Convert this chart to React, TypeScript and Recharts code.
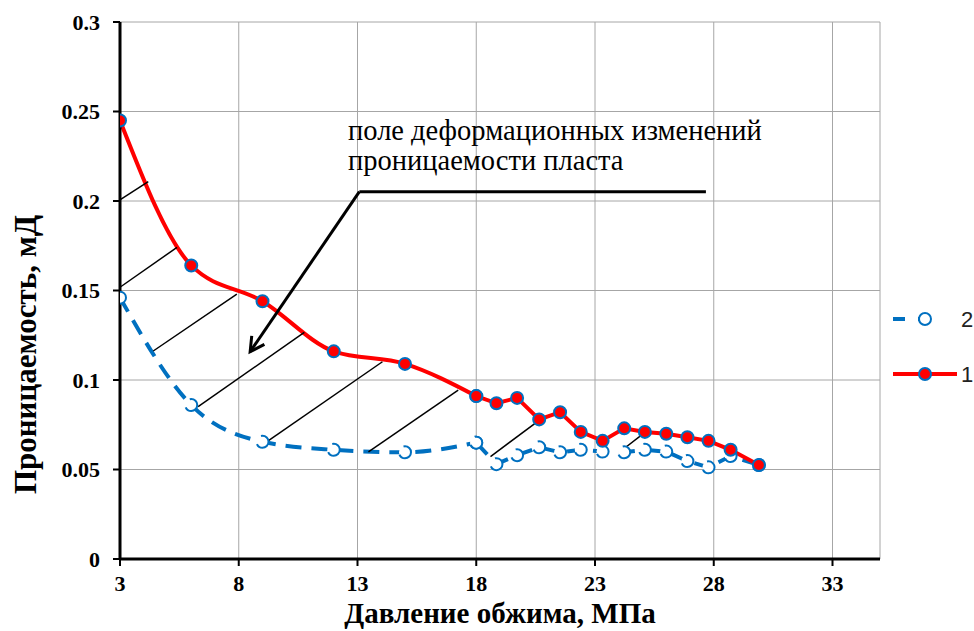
import React from 'react';
import { LineChart, Line, XAxis, YAxis, CartesianGrid, ReferenceLine } from 'recharts';

// ---- data ----
const pressure = [3, 6, 9, 12, 15, 18, 18.85, 19.72, 20.65, 21.53, 22.4, 23.32, 24.23, 25.1, 26.0, 26.89, 27.78, 28.71, 29.9];
const perm1 = [0.245, 0.164, 0.144, 0.116, 0.109, 0.091, 0.087, 0.090, 0.078, 0.082, 0.071, 0.066, 0.073, 0.071, 0.070, 0.068, 0.066, 0.061, 0.0525];
const perm2 = [0.146, 0.086, 0.0655, 0.061, 0.0596, 0.065, 0.053, 0.058, 0.0624, 0.0596, 0.061, 0.060, 0.0596, 0.061, 0.060, 0.0547, 0.0512, 0.0575, 0.0525];
const SMOOTH_END = 5; // index of x = 18, smoothed part ends here

const xTicks = [3, 8, 13, 18, 23, 28, 33];
const yTicks = [0, 0.05, 0.1, 0.15, 0.2, 0.25, 0.3];

const seriesNames = ['2', '1'];
const xTitle = 'Давление обжима, МПа';
const yTitle = 'Проницаемость, мД';
const calloutLines = ['поле деформационных изменений', 'проницаемости пласта'];

// hatch lines [x1, y1, x2, y2] in data units
const hatchX1 = [3.03, 3.03, 4.4, 6.29, 9.13, 13.46, 18.6, 24.05];
const hatchY1 = [0.2009, 0.1521, 0.1162, 0.0851, 0.065, 0.0599, 0.0572, 0.0599];
const hatchX2 = [4.19, 5.4, 7.92, 10.76, 14.05, 17.24, 20.76, 25.24];
const hatchY2 = [0.2108, 0.1741, 0.148, 0.1266, 0.1102, 0.0944, 0.0786, 0.0721];

// callout arrow: start, tip, and horizontal shelf end
const arrowStart = { x: 13.08, y: 0.2052 };
const arrowTip = { x: 8.48, y: 0.1158 };
const shelfEnd = { x: 27.67, y: 0.2052 };

// ---- tables ----
const redSmooth = pressure.slice(0, SMOOTH_END + 1).map((x, i) => ({ x, v: perm1[i] }));
const redLinear = pressure.slice(SMOOTH_END).map((x, i) => ({ x, v: perm1[i + SMOOTH_END] }));
const blueSmooth = pressure.slice(0, SMOOTH_END + 1).map((x, i) => ({ x, v: perm2[i] }));
const blueLinear = pressure.slice(SMOOTH_END).map((x, i) => ({ x, v: perm2[i + SMOOTH_END] }));

const RED = '#FF0000';
const BLUE = '#0070C0';
const SERIF = 'Liberation Serif, Tinos, DejaVu Serif, Noto Serif, Times New Roman, serif';

const ArrowShape = (p: any) => {
  const { x1, y1, x2, y2 } = p;
  const ang = Math.atan2(y1 - y2, x1 - x2);
  const L = 16;
  const a1 = ang + 0.5;
  const a2 = ang - 0.5;
  return (
    <g>
      <line x1={x1} y1={y1} x2={x2} y2={y2} stroke="#000" strokeWidth={3} />
      <polyline
        points={`${x2 + L * Math.cos(a1)},${y2 + L * Math.sin(a1)} ${x2},${y2} ${x2 + L * Math.cos(a2)},${y2 + L * Math.sin(a2)}`}
        fill="none"
        stroke="#000"
        strokeWidth={3}
      />
    </g>
  );
};

const YTitle = (p: any) => {
  const vb = p.viewBox || { x: 0, y: 22, width: 120, height: 537 };
  const cx = vb.x + 25;
  const cy = vb.y + vb.height / 2 + 64;
  return (
    <text x={cx} y={cy} transform={`rotate(-90 ${cx} ${cy})`} textAnchor="middle" dominantBaseline="central"
      style={{ fontFamily: SERIF, fontSize: 31, fontWeight: 'bold', fill: '#000' }}>
      {yTitle}
    </text>
  );
};

const XTick = (p: any) => (
  <text x={p.x} y={p.y} dy="0.75em" textAnchor="middle"
    style={{ fontFamily: SERIF, fontSize: 22, fontWeight: 'bold', fill: '#000' }}>
    {p.payload.value}
  </text>
);

const YTick = (p: any) => (
  <text x={p.x} y={p.y} dy="0.35em" textAnchor="end"
    style={{ fontFamily: SERIF, fontSize: 22, fontWeight: 'bold', fill: '#000' }}>
    {String(+Number(p.payload.value).toFixed(2))}
  </text>
);

const redDot = { r: 6, fill: RED, stroke: BLUE, strokeWidth: 2 };
const blueDot = { r: 6, fill: '#fff', stroke: BLUE, strokeWidth: 2 };

export default function App() {
  return (
    <div style={{ position: 'absolute', left: 0, top: 0, width: 974, height: 631, background: '#fff', fontFamily: SERIF }}>
      <LineChart width={974} height={631} margin={{ top: 22, right: 94, bottom: 0, left: 0 }} style={{ fontFamily: SERIF }}>
        <CartesianGrid stroke="#a6a6a6" strokeWidth={1} />
        <XAxis
          type="number"
          dataKey="x"
          domain={[3, 35]}
          ticks={xTicks}
          allowDataOverflow
          height={72}
          axisLine={{ stroke: '#000', strokeWidth: 3 }}
          tickLine={{ stroke: '#000', strokeWidth: 2 }}
          tickSize={7}
          tickMargin={8}
          tick={<XTick />}
          label={{ value: xTitle, position: 'insideBottom', offset: 8, fill: '#000', fontSize: 29, fontWeight: 'bold', fontFamily: SERIF }}
        />
        <YAxis
          type="number"
          domain={[0, 0.3]}
          ticks={yTicks}
          width={120}
          axisLine={{ stroke: '#000', strokeWidth: 3 }}
          tickLine={{ stroke: '#000', strokeWidth: 2 }}
          tickSize={7}
          tickMargin={13}
          tick={<YTick />}
          label={<YTitle />}
        />
        <Line data={blueSmooth} dataKey="v" type="monotone" stroke={BLUE} strokeWidth={4} strokeDasharray="16 10" dot={blueDot} activeDot={false} isAnimationActive={false} />
        <Line data={blueLinear} dataKey="v" type="linear" stroke={BLUE} strokeWidth={4} strokeDasharray="16 10" dot={blueDot} activeDot={false} isAnimationActive={false} />
        <Line data={redSmooth} dataKey="v" type="monotone" stroke={RED} strokeWidth={4} dot={redDot} activeDot={false} isAnimationActive={false} />
        <Line data={redLinear} dataKey="v" type="linear" stroke={RED} strokeWidth={4} dot={redDot} activeDot={false} isAnimationActive={false} />
        {hatchX1.map((x1, i) => (
          <ReferenceLine
            key={'h' + i}
            segment={[{ x: x1, y: hatchY1[i] }, { x: hatchX2[i], y: hatchY2[i] }]}
            stroke="#000"
            strokeWidth={1.5}
          />
        ))}
        <ReferenceLine segment={[arrowStart, shelfEnd]} stroke="#000" strokeWidth={3} />
        <ReferenceLine segment={[arrowStart, arrowTip]} stroke="#000" strokeWidth={3} shape={ArrowShape} />
      </LineChart>
      <svg width={974} height={631} style={{ position: 'absolute', left: 0, top: 0, pointerEvents: 'none' }}>
        <text x={348} y={140} style={{ fontFamily: SERIF, fontSize: 28.5, fill: '#000' }}>{calloutLines[0]}</text>
        <text x={348} y={170} style={{ fontFamily: SERIF, fontSize: 28.5, fill: '#000' }}>{calloutLines[1]}</text>
        {/* legend */}
        <line x1={893} y1={319} x2={942} y2={319} stroke={BLUE} strokeWidth={4} strokeDasharray="12 13" />
        <circle cx={925} cy={319} r={6} fill="#fff" stroke={BLUE} strokeWidth={2} />
        <text x={961} y={319} dy="0.36em" style={{ fontFamily: 'Liberation Sans, Arial, sans-serif', fontSize: 22, fill: '#222' }}>{seriesNames[0]}</text>
        <line x1={893} y1={374} x2={957} y2={374} stroke={RED} strokeWidth={4} />
        <circle cx={925} cy={374} r={6} fill={RED} stroke={BLUE} strokeWidth={2} />
        <text x={961} y={374} dy="0.36em" style={{ fontFamily: 'Liberation Sans, Arial, sans-serif', fontSize: 22, fill: '#222' }}>{seriesNames[1]}</text>
      </svg>
    </div>
  );
}
